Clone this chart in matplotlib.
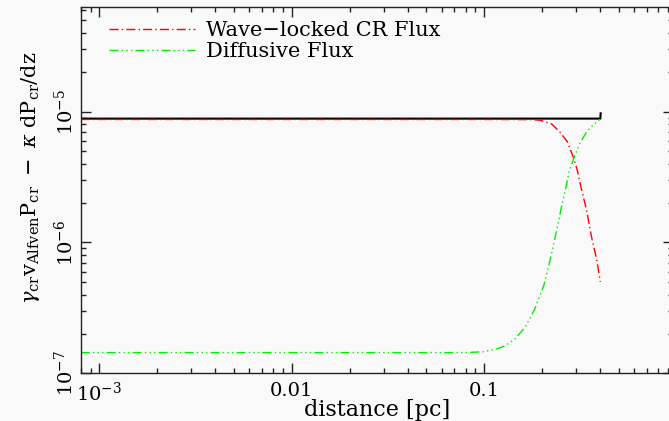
import matplotlib
matplotlib.use("Agg")
import matplotlib.pyplot as plt
from matplotlib.ticker import LogLocator, NullFormatter, FixedLocator, FixedFormatter

# ---- data ----
x_total = [0.0008, 0.01, 0.1, 0.3, 0.401, 0.403]
y_total = [8.85e-6, 8.85e-6, 8.85e-6, 8.85e-6, 8.85e-6, 9.9e-6]

x_wave = [0.0008, 0.001, 0.01, 0.1, 0.15, 0.18, 0.195, 0.224, 0.247, 0.270,
          0.290, 0.304, 0.321, 0.340, 0.361, 0.384, 0.401]
y_wave = [8.72e-6, 8.72e-6, 8.72e-6, 8.72e-6, 8.7e-6, 8.68e-6, 8.6e-6, 8.05e-6,
          7.0e-6, 5.9e-6, 4.5e-6, 3.6e-6, 2.5e-6, 1.77e-6, 1.1e-6, 7.4e-7, 5.0e-7]

x_diff = [0.0008, 0.001, 0.01, 0.05, 0.08, 0.098, 0.114, 0.128, 0.144, 0.163,
          0.183, 0.204, 0.215, 0.228, 0.242, 0.252, 0.266, 0.276, 0.292, 0.314,
          0.340, 0.368, 0.399]
y_diff = [1.44e-7, 1.44e-7, 1.44e-7, 1.44e-7, 1.44e-7, 1.46e-7, 1.52e-7, 1.62e-7,
          1.82e-7, 2.25e-7, 3.1e-7, 4.7e-7, 6.4e-7, 9.3e-7, 1.4e-6, 1.88e-6,
          2.67e-6, 3.47e-6, 4.4e-6, 5.73e-6, 7.0e-6, 7.9e-6, 8.75e-6]

series_labels = ["Wave\u2212locked CR Flux", "Diffusive Flux"]
x_ticks = [1e-3, 1e-2, 1e-1]
x_ticklabels = [r"$10^{-3}$", "0.01", "0.1"]
y_ticks = [1e-7, 1e-6, 1e-5]
y_ticklabels = [r"$10^{-7}$", r"$10^{-6}$", r"$10^{-5}$"]

# ---- style ----
plt.rcParams["font.family"] = ["DejaVu Serif"]
plt.rcParams["mathtext.fontset"] = "dejavuserif"
bg = "#f9f9f9"

fig = plt.figure(figsize=(6.69, 4.21), dpi=100, facecolor=bg)
ax = fig.add_axes([0.1206, 0.1133, 0.8853, 0.8694], facecolor=bg)

ax.plot(x_total, y_total, color="black", lw=1.5, solid_capstyle="butt")
ax.plot(x_wave, y_wave, color="#ff0000", lw=1.0,
        linestyle=(0, (6.5, 2.3, 1, 2.3)), label=series_labels[0])
ax.plot(x_diff, y_diff, color="#00ee00", lw=1.0,
        linestyle=(0, (6.5, 2.3, 1, 2.3, 1, 2.3, 1, 2.3)), label=series_labels[1])

ax.set_xscale("log")
ax.set_yscale("log")
ax.set_xlim(8.0e-4, 0.956)
ax.set_ylim(1e-7, 6.28e-5)

ax.xaxis.set_major_locator(FixedLocator(x_ticks))
ax.xaxis.set_major_formatter(FixedFormatter(x_ticklabels))
ax.xaxis.set_minor_locator(LogLocator(base=10, subs=range(2, 10), numticks=20))
ax.xaxis.set_minor_formatter(NullFormatter())
ax.yaxis.set_major_locator(FixedLocator(y_ticks))
ax.yaxis.set_major_formatter(FixedFormatter(y_ticklabels))
ax.yaxis.set_minor_locator(LogLocator(base=10, subs=range(2, 10), numticks=20))
ax.yaxis.set_minor_formatter(NullFormatter())

ax.tick_params(which="both", direction="in", top=True, right=True,
               color="#222222", width=1.0)
ax.tick_params(which="major", length=7.2, labelsize=14, pad=6)
ax.tick_params(which="minor", length=3.6)
for lbl in ax.get_yticklabels():
    lbl.set_rotation(90)
    lbl.set_va("center")
ax.tick_params(axis="y", pad=3)

for sp in ax.spines.values():
    sp.set_linewidth(1.0)
    sp.set_color("#222222")

ax.set_xlabel("distance [pc]", fontsize=16, labelpad=-4)
ax.set_ylabel(r"$\gamma_{\rm cr}{\rm v}_{\rm Alfven}{\rm P}_{\rm cr}\ -\ \kappa\ {\rm dP}_{\rm cr}/{\rm dz}$",
              fontsize=15)
ax.yaxis.set_label_coords(-0.066, 0.535)

ax.legend(loc="upper left", bbox_to_anchor=(0.048, 0.962), frameon=False,
          fontsize=15, handlelength=4.1, handletextpad=0.55, labelspacing=0.1,
          borderpad=0.0, borderaxespad=0.0)

fig.savefig("out.png", dpi=100, facecolor=bg)
